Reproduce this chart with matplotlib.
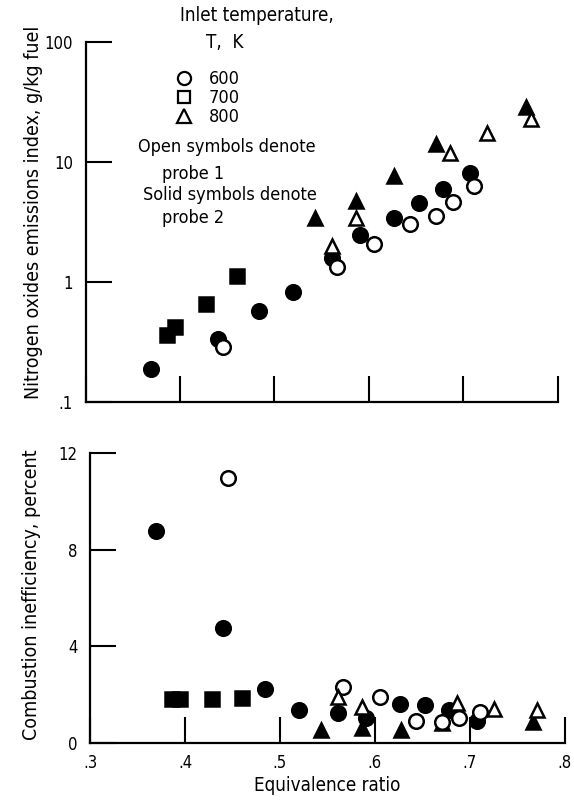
import matplotlib.pyplot as plt
from matplotlib.lines import Line2D

plt.rcParams['font.family'] = ['DejaVu Sans']
plt.rcParams['font.stretch'] = 'condensed'

# Equivalence ratio per test point, grouped by inlet temperature and probe
phi_600_p2 = [0.369, 0.440, 0.484, 0.520, 0.561, 0.591, 0.626, 0.653, 0.678, 0.707]
phi_600_p1 = [0.445, 0.566, 0.605, 0.643, 0.671, 0.689, 0.711]
phi_700_p2 = [0.386, 0.395, 0.428, 0.460]
phi_800_p2 = [0.543, 0.586, 0.627, 0.671, 0.766]
phi_800_p1 = [0.561, 0.586, 0.686, 0.725, 0.771]

# Nitrogen oxides emissions index, g/kg fuel
nox_600_p2 = [0.19, 0.335, 0.57, 0.83, 1.58, 2.46, 3.4, 4.55, 5.96, 8.1]
nox_600_p1 = [0.29, 1.33, 2.07, 3.05, 3.55, 4.64, 6.3]
nox_700_p2 = [0.36, 0.42, 0.66, 1.12]
nox_800_p2 = [3.4, 4.7, 7.6, 14.1, 28.7]
nox_800_p1 = [2.0, 3.4, 11.9, 17.5, 22.8]

# Combustion inefficiency, percent
ineff_600_p2 = [8.77, 4.76, 2.23, 1.37, 1.24, 1.03, 1.61, 1.57, 1.37, 0.91]
ineff_600_p1 = [10.96, 2.32, 1.9, 0.91, 0.87, 1.03, 1.28]
ineff_700_p2 = [1.82, 1.82, 1.82, 1.86]
ineff_800_p2 = [0.54, 0.62, 0.54, 0.83, 0.87]
ineff_800_p1 = [1.9, 1.49, 1.65, 1.4, 1.37]

temps = ['600', '700', '800']
x_ticks = [0.3, 0.4, 0.5, 0.6, 0.7, 0.8]
x_labels = ['.3', '.4', '.5', '.6', '.7', '.8']
nox_ticks = [0.1, 1, 10, 100]
nox_labels = ['.1', '1', '10', '100']
ineff_ticks = [0, 4, 8, 12]

# solid (probe 2) first so the open symbols sit on top
series = [
    (phi_600_p2, nox_600_p2, ineff_600_p2, 'o', True),
    (phi_700_p2, nox_700_p2, ineff_700_p2, 's', True),
    (phi_800_p2, nox_800_p2, ineff_800_p2, '^', True),
    (phi_600_p1, nox_600_p1, ineff_600_p1, 'o', False),
    (phi_800_p1, nox_800_p1, ineff_800_p1, '^', False),
]
msize = {'o': 10.5, 's': 10, '^': 10.5}

fig = plt.figure(figsize=(5.74, 8), dpi=100)
ax1 = fig.add_axes([0.149, 0.4975, 0.823, 0.45])
ax2 = fig.add_axes([0.157, 0.071, 0.827, 0.363])

for ax, col in ((ax1, 1), (ax2, 2)):
    for s in series:
        filled = s[4]
        ax.plot(s[0], s[col], linestyle='none', marker=s[3], ms=msize[s[3]],
                mfc='black' if filled else 'white', mec='black',
                mew=1.8, clip_on=False)
    for side in ('top', 'right'):
        ax.spines[side].set_visible(False)
    for side in ('left', 'bottom'):
        ax.spines[side].set_linewidth(1.6)
    ax.set_xlim(0.3, 0.8)
    ax.set_xticks(x_ticks)
    ax.tick_params(direction='in', length=19, width=1.5, labelsize=12, pad=9)
    ax.tick_params(axis='x', pad=8)

ax1.set_yscale('log')
ax1.set_ylim(0.1, 100)
ax1.set_yticks(nox_ticks)
ax1.set_yticklabels(nox_labels)
ax1.minorticks_off()
ax1.set_xticklabels([])
ax1.set_ylabel('Nitrogen oxides emissions index, g/kg fuel', fontsize=14)
ax1.yaxis.set_label_coords(-0.089, 0.528)

ax2.set_ylim(0, 12)
ax2.set_yticks(ineff_ticks)
ax2.set_xticklabels(x_labels)
ax2.set_ylabel('Combustion inefficiency, percent', fontsize=14)
ax2.yaxis.set_label_coords(-0.103, 0.51)
ax2.set_xlabel('Equivalence ratio', fontsize=13.5, labelpad=3)

# symbol key for inlet temperature
fig.text(0.448, 0.981, 'Inlet temperature,', fontsize=13.5, ha='center', va='center')
fig.text(0.392, 0.947, 'T,  K', fontsize=13.5, ha='center', va='center')
handles = [Line2D([], [], linestyle='none', marker=m, ms=msize[m] * 0.9,
                  mfc='white', mec='black', mew=1.6) for m in ('o', 's', '^')]
fig.legend(handles, temps, loc='upper left', bbox_to_anchor=(0.304, 0.912),
           frameon=False, fontsize=13, handlelength=1.0, handletextpad=0.9,
           labelspacing=0.05, borderpad=0, borderaxespad=0)
fig.text(0.240, 0.816, 'Open symbols denote', fontsize=13, va='center')
fig.text(0.282, 0.782, 'probe 1', fontsize=13, va='center')
fig.text(0.249, 0.756, 'Solid symbols denote', fontsize=13, va='center')
fig.text(0.282, 0.728, 'probe 2', fontsize=13, va='center')

plt.savefig('out.png', dpi=100)
